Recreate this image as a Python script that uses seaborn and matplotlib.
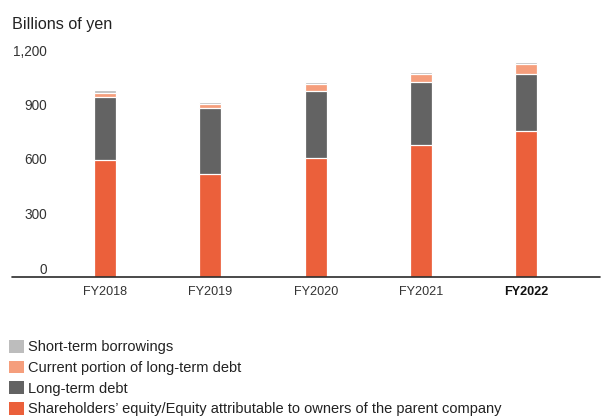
import matplotlib
matplotlib.use("Agg")
import matplotlib.pyplot as plt
import matplotlib.transforms as mtransforms
from matplotlib.patches import Patch
import numpy as np
import pandas as pd
import seaborn as sns

# ---- data (billions of yen) ----
years = ["FY2018", "FY2019", "FY2020", "FY2021", "FY2022"]
equity = [642, 568, 656, 727, 804]
long_term_debt = [348, 361, 370, 346, 313]
current_portion = [22, 22, 36, 45, 53]
short_term = [15, 14, 14, 13, 16]
y_ticks = [0, 300, 600, 900, 1200]
y_tick_labels = ["0", "300", "600", "900", "1,200"]

series_names = [
    "Shareholders\u2019 equity/Equity attributable to owners of the parent company",
    "Long-term debt",
    "Current portion of long-term debt",
    "Short-term borrowings",
]
colors = ["#EB603B", "#636363", "#F59E7C", "#BDBDBD"]

sns.set_theme(style="white")
plt.rcParams["font.family"] = ["Liberation Sans", "DejaVu Sans"]

df = pd.DataFrame({
    "year": years,
    "equity": equity,
    "ltd": long_term_debt,
    "cur": current_portion,
    "short": short_term,
})
df["c1"] = df["equity"]
df["c2"] = df["c1"] + df["ltd"]
df["c3"] = df["c2"] + df["cur"]
df["c4"] = df["c3"] + df["short"]

W, H = 601, 417
fig = plt.figure(figsize=(W / 100, H / 100), dpi=100)
ax = fig.add_axes([12 / W, (H - 277) / H, 588 / W, 218 / H])

# stacked by drawing cumulative totals, top layer first
for col, color in zip(["c4", "c3", "c2", "c1"], colors[::-1]):
    sns.barplot(data=df, x="year", y=col, color=color, width=0.21,
                edgecolor="white", linewidth=0.9, saturation=1, ax=ax,
                zorder=2)

ax.set_xlim(-0.884, 4.70)
ax.set_ylim(0, 1200)
ax.set_xlabel("")
ax.set_ylabel("")
for s in ["top", "right", "left", "bottom"]:
    ax.spines[s].set_visible(False)
ax.axhline(0, color="#2b2b2b", lw=1.2, zorder=5, clip_on=False)

ax.set_yticks(y_ticks)
ax.set_yticklabels(y_tick_labels)
ax.tick_params(axis="y", length=0, pad=-25.2, labelsize=9.8, labelcolor="#333333")
offset = mtransforms.ScaledTranslation(0, 0.09, fig.dpi_scale_trans)
for lab in ax.get_yticklabels():
    lab.set_transform(lab.get_transform() + offset)
    lab.set_horizontalalignment("right")

ax.tick_params(axis="x", length=0, pad=6.5, labelsize=9.1, labelcolor="#333333")
xl = ax.get_xticklabels()
xl[-1].set_fontweight("bold")
xl[-1].set_color("#111111")

fig.text(12 / W, 1 - 29 / H, "Billions of yen", ha="left", va="baseline",
         fontsize=11.6, color="#222222")

handles = [Patch(facecolor=c, edgecolor="none") for c in colors[::-1]]
labels = series_names[::-1]
fig.legend(handles, labels, loc="upper left",
           bbox_to_anchor=(9.3 / W, 1 - 340 / H), frameon=False,
           fontsize=10.55, handlelength=0.97, handleheight=0.97,
           handletextpad=0.32, labelspacing=0.42, borderpad=0,
           borderaxespad=0, labelcolor="#222222")

fig.savefig("out.png", dpi=100)
